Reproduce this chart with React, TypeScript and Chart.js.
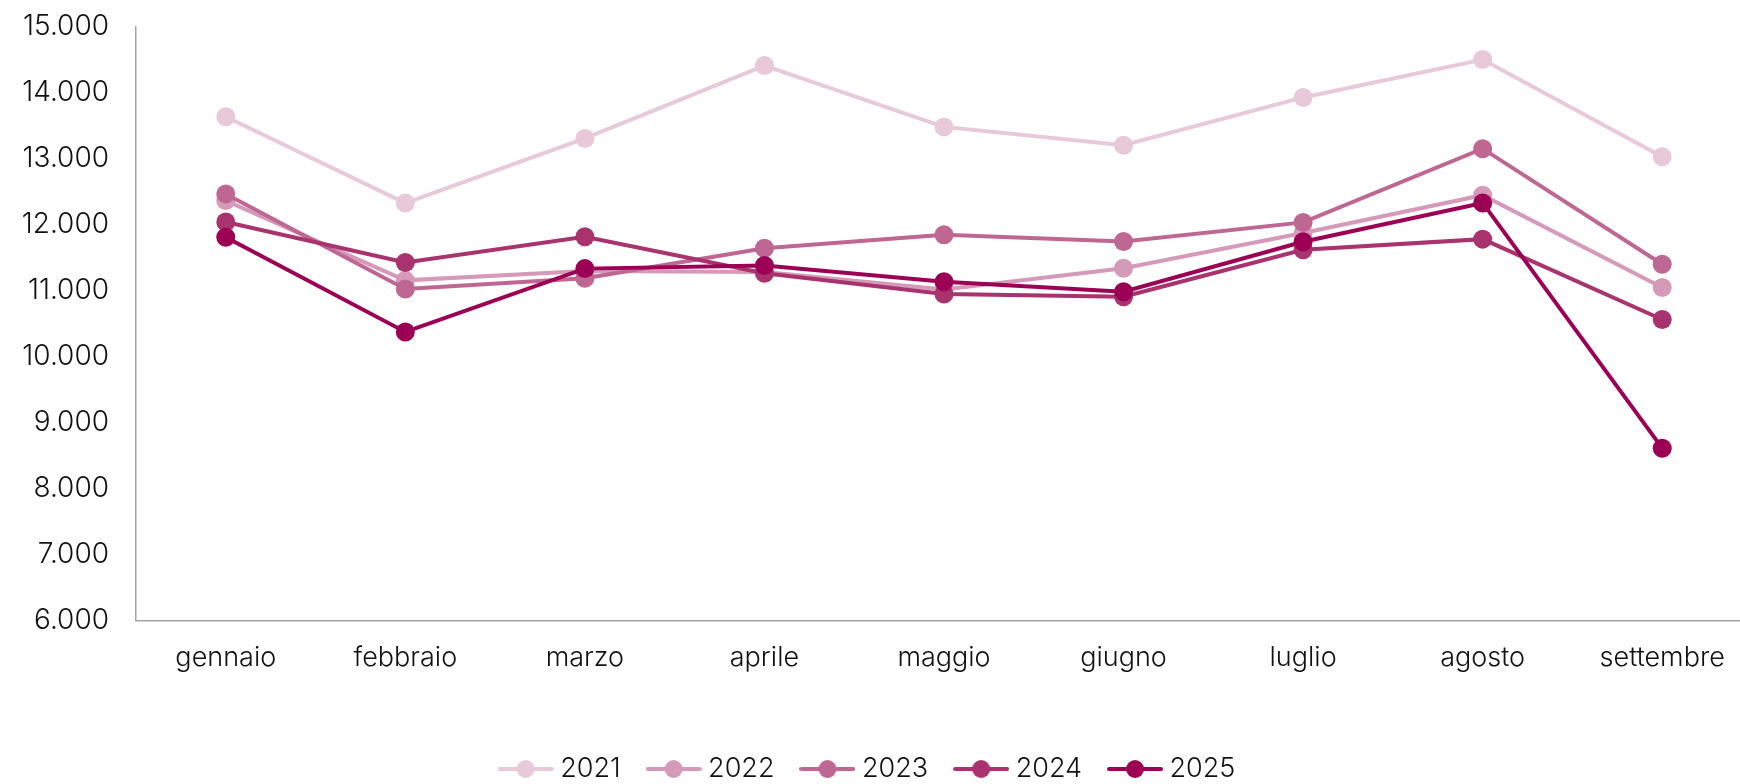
import React, { useEffect, useRef } from "react";
import { Chart, registerables } from "chart.js";

Chart.register(...registerables);

const months = ["gennaio", "febbraio", "marzo", "aprile", "maggio", "giugno", "luglio", "agosto", "settembre"];
const years = ["2021", "2022", "2023", "2024", "2025"];
const v2021 = [13640, 12330, 13310, 14415, 13485, 13206, 13932, 14506, 13033];
const v2022 = [12368, 11158, 11300, 11285, 11020, 11341, 11875, 12449, 11051];
const v2023 = [12469, 11027, 11189, 11646, 11849, 11748, 12037, 13155, 11402];
const v2024 = [12042, 11428, 11818, 11265, 10951, 10910, 11621, 11783, 10564];
const v2025 = [11813, 10376, 11336, 11382, 11138, 10986, 11743, 12332, 8613];
const seriesValues = [v2021, v2022, v2023, v2024, v2025];
const colors = ["#e8c9da", "#d59ab9", "#bf6793", "#a8336e", "#9c0055"];

const FONT = "Inter, 'Noto Sans', sans-serif";

function fmt(v: number): string {
  return String(Math.round(v)).replace(/\B(?=(\d{3})+(?!\d))/g, ".");
}

function legendIcon(color: string): HTMLCanvasElement {
  const c = document.createElement("canvas");
  c.width = 56;
  c.height = 20;
  const ctx = c.getContext("2d")!;
  ctx.strokeStyle = color;
  ctx.lineWidth = 4;
  ctx.lineCap = "round";
  ctx.beginPath();
  ctx.moveTo(2, 10);
  ctx.lineTo(54, 10);
  ctx.stroke();
  ctx.fillStyle = color;
  ctx.beginPath();
  ctx.arc(28, 10, 9, 0, Math.PI * 2);
  ctx.fill();
  return c;
}

// The plot area in the reference runs slightly past the right edge of the image.
const stretchX = {
  id: "stretchX",
  afterLayout(chart: any) {
    const extra = 12;
    const s = chart.scales.x;
    s.right += extra;
    s.width += extra;
    s.configure();
    chart.chartArea.right += extra;
    chart.chartArea.width += extra;
  },
};

export default function App() {
  const ref = useRef<HTMLCanvasElement | null>(null);

  useEffect(() => {
    if (!ref.current) return;
    const icons = colors.map(legendIcon);
    const chart = new Chart(ref.current, {
      type: "line",
      data: {
        labels: months,
        datasets: years.map((y, i) => ({
          label: y,
          data: seriesValues[i],
          borderColor: colors[i],
          backgroundColor: colors[i],
          pointBackgroundColor: colors[i],
          pointBorderColor: colors[i],
          borderWidth: 4,
          pointRadius: 9.5,
          pointHoverRadius: 9.5,
          pointBorderWidth: 0,
          tension: 0,
          clip: false,
          order: years.length - i,
        })),
      },
      options: {
        responsive: false,
        animation: false,
        layout: { autoPadding: false, padding: { left: 0, right: 0, top: 27, bottom: -8.5 } },
        plugins: {
          tooltip: { enabled: false },
          legend: {
            position: "bottom",
            labels: {
              usePointStyle: true,
              pointStyleWidth: 42,
              boxHeight: 20,
              padding: 32,
              color: "#111",
              font: { family: FONT, size: 27, weight: "300" },
              generateLabels: (ch: any) =>
                ch.data.datasets.map((ds: any, i: number) => ({
                  text: ds.label,
                  fillStyle: colors[i],
                  strokeStyle: colors[i],
                  lineWidth: 0,
                  pointStyle: icons[i],
                  hidden: false,
                  datasetIndex: i,
                  fontColor: "#111",
                })),
            },
          },
        },
        scales: {
          x: {
            type: "category",
            offset: true,
            grid: { display: false, drawTicks: false },
            border: { display: true, color: "#a6a6a6", width: 1.5 },
            ticks: {
              color: "#111",
              padding: 21,
              maxRotation: 0,
              autoSkip: false,
              font: { family: FONT, size: 27, weight: "300" },
            },
            afterFit: (s: any) => {
              s.height = 103;
              s.paddingLeft = 0;
              s.paddingRight = 0;
            },
          },
          y: {
            min: 6000,
            max: 15000,
            grid: { display: false, drawTicks: false },
            border: { display: true, color: "#a6a6a6", width: 1.5 },
            ticks: {
              stepSize: 1000,
              color: "#111",
              padding: 27,
              font: { family: FONT, size: 28, weight: "300" },
              callback: (v: any) => fmt(Number(v)),
            },
            afterFit: (s: any) => {
              s.width = 136;
              s.paddingTop = 0;
              s.paddingBottom = 0;
            },
          },
        },
      },
      plugins: [stretchX],
    } as any);
    return () => chart.destroy();
  }, []);

  return (
    <div style={{ position: "fixed", left: 0, top: 0, width: 1740, height: 784, background: "#fff", overflow: "hidden" }}>
      <canvas ref={ref} width={1740} height={784} style={{ display: "block" }} />
    </div>
  );
}
